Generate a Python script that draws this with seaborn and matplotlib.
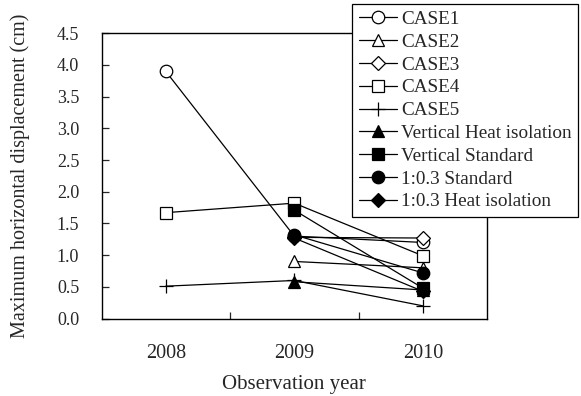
import numpy as np
import pandas as pd
import matplotlib
matplotlib.use("Agg")
import matplotlib.pyplot as plt
import seaborn as sns
from matplotlib.ticker import FixedLocator

years = ["2008", "2009", "2010"]
series_names = ["CASE1", "CASE2", "CASE3", "CASE4", "CASE5",
                "Vertical Heat isolation", "Vertical Standard",
                "1:0.3 Standard", "1:0.3 Heat isolation"]
case1 = [3.90, 1.30, 1.20]
case2 = [np.nan, 0.90, 0.80]
case3 = [np.nan, 1.28, 1.27]
case4 = [1.67, 1.82, 0.99]
case5 = [0.51, 0.60, 0.20]
vert_heat = [np.nan, 0.58, 0.45]
vert_std = [np.nan, 1.71, 0.48]
s03_std = [np.nan, 1.32, 0.72]
s03_heat = [np.nan, 1.27, 0.43]
all_values = [case1, case2, case3, case4, case5, vert_heat, vert_std, s03_std, s03_heat]

styles = {
    "CASE1": dict(marker="o", ms=9, mfc="white"),
    "CASE2": dict(marker="^", ms=9, mfc="white"),
    "CASE3": dict(marker="D", ms=7, mfc="white"),
    "CASE4": dict(marker="s", ms=8.5, mfc="white"),
    "CASE5": dict(marker="+", ms=10, mfc="black"),
    "Vertical Heat isolation": dict(marker="^", ms=9, mfc="black"),
    "Vertical Standard": dict(marker="s", ms=8.5, mfc="black"),
    "1:0.3 Standard": dict(marker="o", ms=9, mfc="black"),
    "1:0.3 Heat isolation": dict(marker="D", ms=7, mfc="black"),
}

sns.set_style("ticks")
plt.rcParams["font.family"] = ["Liberation Serif", "DejaVu Serif"]

fig = plt.figure(figsize=(5.81, 3.96), dpi=100)
ax = fig.add_axes([101.5 / 581, 1 - 318.5 / 396, (487 - 101.5) / 581, (318.5 - 33.3) / 396])

x_pos = np.arange(len(years))
for name, vals in zip(series_names, all_values):
    df = pd.DataFrame({"x": x_pos, "y": vals}).dropna()
    st = styles[name]
    sns.lineplot(data=df, x="x", y="y", ax=ax, color="black", lw=0.9,
                 marker=st["marker"], markersize=st["ms"],
                 markerfacecolor=st["mfc"], markeredgecolor="black",
                 markeredgewidth=0.9, label=name, legend=False)

ax.set_xlim(-0.5, 2.5)
ax.set_ylim(0, 4.5)
ax.set_xticks(x_pos)
ax.set_xticklabels(years)
ax.xaxis.set_minor_locator(FixedLocator([0.5, 1.5]))
ax.tick_params(axis="x", which="major", length=0, pad=18, labelsize=14.5)
ax.tick_params(axis="x", which="minor", direction="in", length=5, width=0.9)
ax.set_yticks(np.arange(0, 4.51, 0.5))
ax.set_yticklabels([f"{v:.1f}" for v in np.arange(0, 4.51, 0.5)])
ax.tick_params(axis="y", direction="in", length=5, width=0.9, labelsize=13, pad=16)
for sp in ax.spines.values():
    sp.set_visible(True)
    sp.set_color("black")
    sp.set_linewidth(1.0)
ax.set_xlabel("Observation year", fontsize=15, labelpad=9)
ax.set_ylabel("Maximum horizontal displacement (cm)", fontsize=14.5, labelpad=19)

h, l = ax.get_legend_handles_labels()
leg = fig.legend(h, l, loc="upper left", bbox_to_anchor=(352 / 581, 1 - 4 / 396),
                 fontsize=13.8, frameon=True, fancybox=False, edgecolor="black",
                 framealpha=1, labelspacing=0.28, handlelength=2.0, handletextpad=0.2,
                 borderpad=0.35, borderaxespad=0)
leg.get_frame().set_linewidth(0.9)

fig.savefig("out.png", dpi=100)
